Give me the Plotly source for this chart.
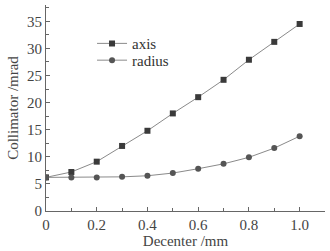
import plotly.graph_objects as go

decenter = [0, 0.1, 0.2, 0.3, 0.4, 0.5, 0.6, 0.7, 0.8, 0.9, 1.0]
axis_vals = [6.2, 7.2, 9.1, 12.0, 14.8, 18.0, 21.0, 24.2, 27.9, 31.2, 34.5]
radius_vals = [6.2, 6.2, 6.2, 6.3, 6.5, 7.0, 7.8, 8.7, 9.9, 11.6, 13.8]

x_ticks = [0, 0.2, 0.4, 0.6, 0.8, 1.0]
x_ticklabels = ["0", "0.2", "0.4", "0.6", "0.8", "1.0"]
y_ticks = [0, 5, 10, 15, 20, 25, 30, 35]

font = "Liberation Serif"

fig = go.Figure()
fig.add_trace(go.Scatter(
    x=decenter, y=axis_vals, mode="lines+markers", name="axis",
    line=dict(color="#8a8a8a", width=1),
    marker=dict(symbol="square", size=6, color="#3a3a3a"),
    legend="legend",
))
fig.add_trace(go.Scatter(
    x=decenter, y=radius_vals, mode="lines+markers", name="radius",
    line=dict(color="#8a8a8a", width=1),
    marker=dict(symbol="circle", size=6, color="#555555"),
    legend="legend2",
))

leg_common = dict(xanchor="left", yanchor="middle", bgcolor="rgba(0,0,0,0)",
                  font=dict(family=font, size=15, color="#333333"),
                  itemwidth=30, borderwidth=0)

fig.update_layout(
    width=330, height=251,
    margin=dict(l=46, r=5, t=5, b=38),
    paper_bgcolor="white", plot_bgcolor="white",
    font=dict(family=font, size=14, color="#444444"),
    showlegend=True,
    legend=dict(x=0.165, y=0.8125, **leg_common),
    legend2=dict(x=0.165, y=0.731, **leg_common),
    xaxis=dict(
        range=[0, 1.1], tickvals=x_ticks, ticktext=x_ticklabels,
        ticks="inside", ticklen=4, tickcolor="#666666",
        showline=True, linecolor="#666666", linewidth=1,
        showgrid=False, zeroline=False,
        minor=dict(dtick=0.1, tick0=0, ticks="inside", ticklen=3, tickcolor="#666666"),
        title=dict(text="Decenter /mm", standoff=2, font=dict(family=font, size=15, color="#444444")),
        tickfont=dict(family=font, size=15, color="#444444"),
    ),
    yaxis=dict(
        range=[0, 38], tickvals=y_ticks,
        ticks="inside", ticklen=4, tickcolor="#666666",
        showline=True, linecolor="#666666", linewidth=1,
        showgrid=False, zeroline=False,
        minor=dict(dtick=2.5, tick0=0, ticks="inside", ticklen=3, tickcolor="#666666"),
        title=dict(text="Collimator /mrad", standoff=4, font=dict(family=font, size=15, color="#444444")),
        tickfont=dict(family=font, size=15, color="#444444"),
    ),
)

fig.write_html("out.html")
